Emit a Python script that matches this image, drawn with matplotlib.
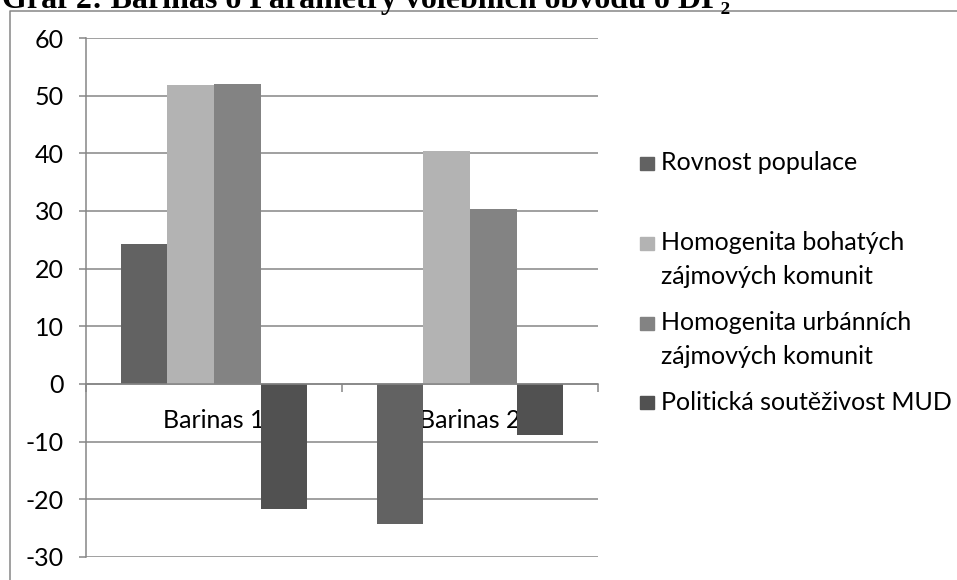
import matplotlib
matplotlib.use("Agg")
import matplotlib.pyplot as plt
from matplotlib.patches import Rectangle
from matplotlib.lines import Line2D
import numpy as np

categories = ["Barinas 1", "Barinas 2"]
series_names = ["Rovnost populace",
                "Homogenita bohatých\nzájmových komunit",
                "Homogenita urbánních\nzájmových komunit",
                "Politická soutěživost MUD"]
rovnost = [24.3, -24.2]
hom_bohatych = [51.9, 40.4]
hom_urbannich = [52.0, 30.4]
politicka = [-21.7, -8.8]
series_values = [rovnost, hom_bohatych, hom_urbannich, politicka]
colors = ["#626262", "#b3b3b3", "#838383", "#515151"]
yticks = [-30, -20, -10, 0, 10, 20, 30, 40, 50, 60]
title = "Graf 2: Barinas ó Parametry volebních obvodů ó DP₂"

W, H = 957, 580
fig = plt.figure(figsize=(W / 100, H / 100), dpi=100)
ax = fig.add_axes([86 / W, 1 - 557 / H, (598 - 86) / W, (557 - 38) / H])

grid_c = "#868686"
font = "Lato"
fs = 18

n = len(series_values)
bw = 1 / (n + 1.5)
x = np.arange(len(categories))
for i, (vals, c) in enumerate(zip(series_values, colors)):
    ax.bar(x + (i - (n - 1) / 2) * bw, vals, width=bw, color=c, zorder=2, linewidth=0)

ax.set_xlim(-0.5, len(categories) - 0.5)
ax.set_ylim(yticks[0], yticks[-1])
ax.set_yticks(yticks)
ax.set_yticklabels([str(v) for v in yticks], fontsize=fs, family=font)
ax.yaxis.grid(True, color=grid_c, linewidth=1.1, zorder=0)
ax.set_axisbelow(True)

for s in ["top", "right"]:
    ax.spines[s].set_visible(False)
ax.spines["left"].set_color(grid_c)
ax.spines["left"].set_linewidth(1.1)
ax.spines["bottom"].set_position(("data", 0))
ax.spines["bottom"].set_color(grid_c)
ax.spines["bottom"].set_linewidth(1.1)

ax.tick_params(axis="y", length=5, width=1.1, color=grid_c, pad=11)
ax.set_xticks(np.arange(len(categories) + 1) - 0.5)
ax.set_xticklabels([])
ax.tick_params(axis="x", which="major", length=6, width=1.1, color=grid_c, direction="out")
ax.set_xticks(x, minor=True)
ax.set_xticklabels(categories, minor=True, fontsize=fs, family=font)
ax.tick_params(axis="x", which="minor", length=0, pad=18)

# legend
lx_sq, lx_txt = 640, 661
row_y = [163, 243, 323, 402]
line_gap = 33
for name, c, yy in zip(series_names, colors, row_y):
    fig.patches.append(Rectangle((lx_sq / W, 1 - (yy + 6.5) / H), 14 / W, 13 / H,
                                 transform=fig.transFigure, color=c))
    for k, line in enumerate(name.split("\n")):
        fig.text(lx_txt / W, 1 - (yy + k * line_gap) / H, line, fontsize=fs,
                 family=font, va="center", ha="left")

# chart area border
fig.add_artist(Line2D([10 / W, 10 / W, 1.0], [0.0, 1 - 11 / H, 1 - 11 / H],
                      transform=fig.transFigure, color=grid_c, linewidth=1.1))

fig.text(2 / W, 1 - 8 / H, title, fontsize=23, fontweight="bold",
         family=["Liberation Serif", "DejaVu Serif"], va="baseline", ha="left")

fig.savefig("out.png", dpi=100)
